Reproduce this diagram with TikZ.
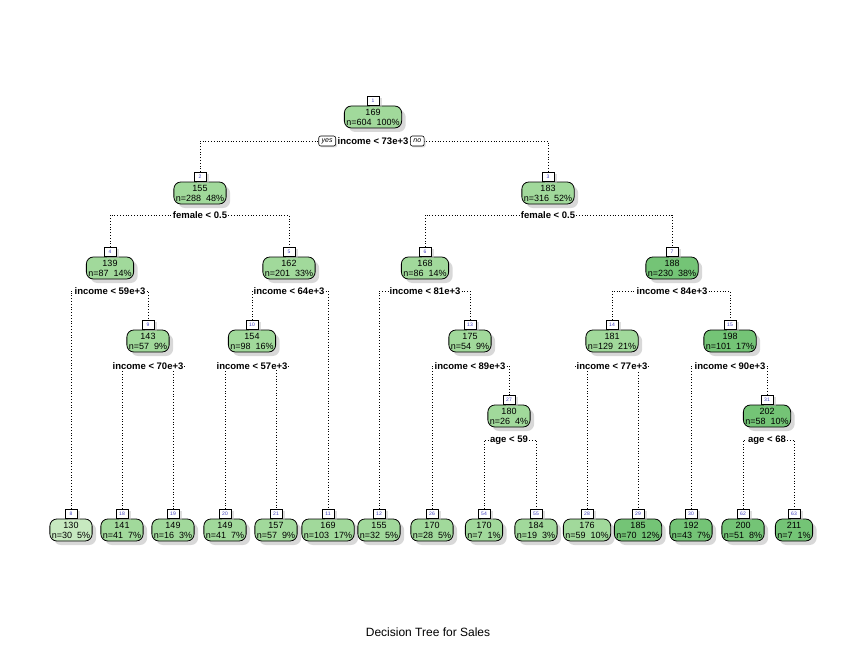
\documentclass[tikz,border=0pt]{standalone}
\usepackage{fontspec}
\setmainfont{Liberation Sans}
\usetikzlibrary{shadows,backgrounds,positioning}
\definecolor{gmid}{HTML}{A1D99B}
\definecolor{gdark}{HTML}{74C476}
\definecolor{glight}{HTML}{C7E9C0}

\begin{document}
\begin{tikzpicture}
[
    x = 1pt, y = -1pt,
    tnode/.style = {draw, line width = 0.8pt, rounded corners = 7pt, fill = gmid, align = center,
        inner xsep = 2pt, inner ysep = 1pt, minimum height = 22pt, font = \fontsize{9}{10}\selectfont,
        drop shadow = {shadow xshift = 4pt, shadow yshift = -4pt, fill = black!30}},
    tdark/.style = {fill = gdark},
    tlight/.style = {fill = glight},
    tnum/.style = {draw, fill = white, line width = 0.6pt, inner sep = 0pt, minimum width = 12pt,
        minimum height = 9pt, text = blue!50!gray, font = \fontsize{5}{5}\selectfont,
        drop shadow = {shadow xshift = 3pt, shadow yshift = -2pt, fill = black!25}},
    tsplit/.style = {fill = white, inner xsep = 1pt, inner ysep = 0.5pt, font = \fontsize{9.5}{10}\bfseries\selectfont},
    tyn/.style = {draw, fill = white, line width = 0.6pt, rounded corners = 2pt, inner xsep = 3pt, inner ysep = 0pt,
        minimum height = 10pt, font = \fontsize{7}{7}\itshape\selectfont,
        drop shadow = {shadow xshift = 1.5pt, shadow yshift = -1.5pt, fill = black!25}},
    tlink/.style = {dotted, line width = 0.8pt}
]
\useasboundingbox (0,0) rectangle (862,658);

\node[tnode, label = {[tnum, name = t1]above:1}] (n1) at (373,117) {169\\n=604\ \ 100\%};
\node[tsplit] (s1) at (373,141) {income < 73e+3};
\node[tyn, left = 0.5pt of s1] (yes) {yes};
\node[tyn, right = 0.5pt of s1] (no) {no};

\node[tnode, label = {[tnum, name = t2]above:2}] (n2) at (200,193) {155\\n=288\ \ 48\%};
\node[tsplit] (s2) at (200,215) {female < 0.5};
\node[tnode, label = {[tnum, name = t3]above:3}] (n3) at (548,193) {183\\n=316\ \ 52\%};
\node[tsplit] (s3) at (548,215) {female < 0.5};

\node[tnode, label = {[tnum, name = t4]above:4}] (n4) at (110,268) {139\\n=87\ \ 14\%};
\node[tsplit] (s4) at (110,291) {income < 59e+3};
\node[tnode, label = {[tnum, name = t5]above:5}] (n5) at (289,268) {162\\n=201\ \ 33\%};
\node[tsplit] (s5) at (289,291) {income < 64e+3};
\node[tnode, label = {[tnum, name = t6]above:6}] (n6) at (425,268) {168\\n=86\ \ 14\%};
\node[tsplit] (s6) at (425,291) {income < 81e+3};
\node[tnode, tdark, label = {[tnum, name = t7]above:7}] (n7) at (672,268) {188\\n=230\ \ 38\%};
\node[tsplit] (s7) at (672,291) {income < 84e+3};

\node[tnode, label = {[tnum, name = t9]above:9}] (n9) at (148,341) {143\\n=57\ \ 9\%};
\node[tsplit] (s9) at (148,366) {income < 70e+3};
\node[tnode, label = {[tnum, name = t10]above:10}] (n10) at (252,341) {154\\n=98\ \ 16\%};
\node[tsplit] (s10) at (252,366) {income < 57e+3};
\node[tnode, label = {[tnum, name = t13]above:13}] (n13) at (470,341) {175\\n=54\ \ 9\%};
\node[tsplit] (s13) at (470,366) {income < 89e+3};
\node[tnode, label = {[tnum, name = t14]above:14}] (n14) at (612,341) {181\\n=129\ \ 21\%};
\node[tsplit] (s14) at (612,366) {income < 77e+3};
\node[tnode, tdark, label = {[tnum, name = t15]above:15}] (n15) at (730,341) {198\\n=101\ \ 17\%};
\node[tsplit] (s15) at (730,366) {income < 90e+3};

\node[tnode, label = {[tnum, name = t27]above:27}] (n27) at (509,416) {180\\n=26\ \ 4\%};
\node[tsplit] (s27) at (509,440) {age < 59};
\node[tnode, tdark, label = {[tnum, name = t31]above:31}] (n31) at (767,416) {202\\n=58\ \ 10\%};
\node[tsplit] (s31) at (767,440) {age < 68};

\node[tnode, tlight, label = {[tnum, name = t8]above:8}] (n8) at (71,530) {130\\n=30\ \ 5\%};
\node[tnode, label = {[tnum, name = t18]above:18}] (n18) at (122,530) {141\\n=41\ \ 7\%};
\node[tnode, label = {[tnum, name = t19]above:19}] (n19) at (173,530) {149\\n=16\ \ 3\%};
\node[tnode, label = {[tnum, name = t20]above:20}] (n20) at (225,530) {149\\n=41\ \ 7\%};
\node[tnode, label = {[tnum, name = t21]above:21}] (n21) at (276,530) {157\\n=57\ \ 9\%};
\node[tnode, label = {[tnum, name = t11]above:11}] (n11) at (328,530) {169\\n=103\ \ 17\%};
\node[tnode, label = {[tnum, name = t12]above:12}] (n12) at (379,530) {155\\n=32\ \ 5\%};
\node[tnode, label = {[tnum, name = t26]above:26}] (n26) at (432,530) {170\\n=28\ \ 5\%};
\node[tnode, label = {[tnum, name = t54]above:54}] (n54) at (484,530) {170\\n=7\ \ 1\%};
\node[tnode, label = {[tnum, name = t55]above:55}] (n55) at (536,530) {184\\n=19\ \ 3\%};
\node[tnode, label = {[tnum, name = t28]above:28}] (n28) at (587,530) {176\\n=59\ \ 10\%};
\node[tnode, tdark, label = {[tnum, name = t29]above:29}] (n29) at (638,530) {185\\n=70\ \ 12\%};
\node[tnode, tdark, label = {[tnum, name = t30]above:30}] (n30) at (691,530) {192\\n=43\ \ 7\%};
\node[tnode, tdark, label = {[tnum, name = t62]above:62}] (n62) at (743,530) {200\\n=51\ \ 8\%};
\node[tnode, tdark, label = {[tnum, name = t63]above:63}] (n63) at (794,530) {211\\n=7\ \ 1\%};

\node[font = \fontsize{12}{14}\selectfont] (title) at (428,632) {Decision Tree for Sales};

\begin{pgfonlayer}{background}
\draw[tlink] (t2.north) |- (s1) -| (t3.north);
\draw[tlink] (t4.north) |- (s2) -| (t5.north);
\draw[tlink] (t6.north) |- (s3) -| (t7.north);
\draw[tlink] (t8.north) |- (s4) -| (t9.north);
\draw[tlink] (t10.north) |- (s5) -| (t11.north);
\draw[tlink] (t12.north) |- (s6) -| (t13.north);
\draw[tlink] (t14.north) |- (s7) -| (t15.north);
\draw[tlink] (t18.north) |- (s9) -| (t19.north);
\draw[tlink] (t20.north) |- (s10) -| (t21.north);
\draw[tlink] (t26.north) |- (s13) -| (t27.north);
\draw[tlink] (t28.north) |- (s14) -| (t29.north);
\draw[tlink] (t30.north) |- (s15) -| (t31.north);
\draw[tlink] (t54.north) |- (s27) -| (t55.north);
\draw[tlink] (t62.north) |- (s31) -| (t63.north);
\end{pgfonlayer}
\end{tikzpicture}
\end{document}
